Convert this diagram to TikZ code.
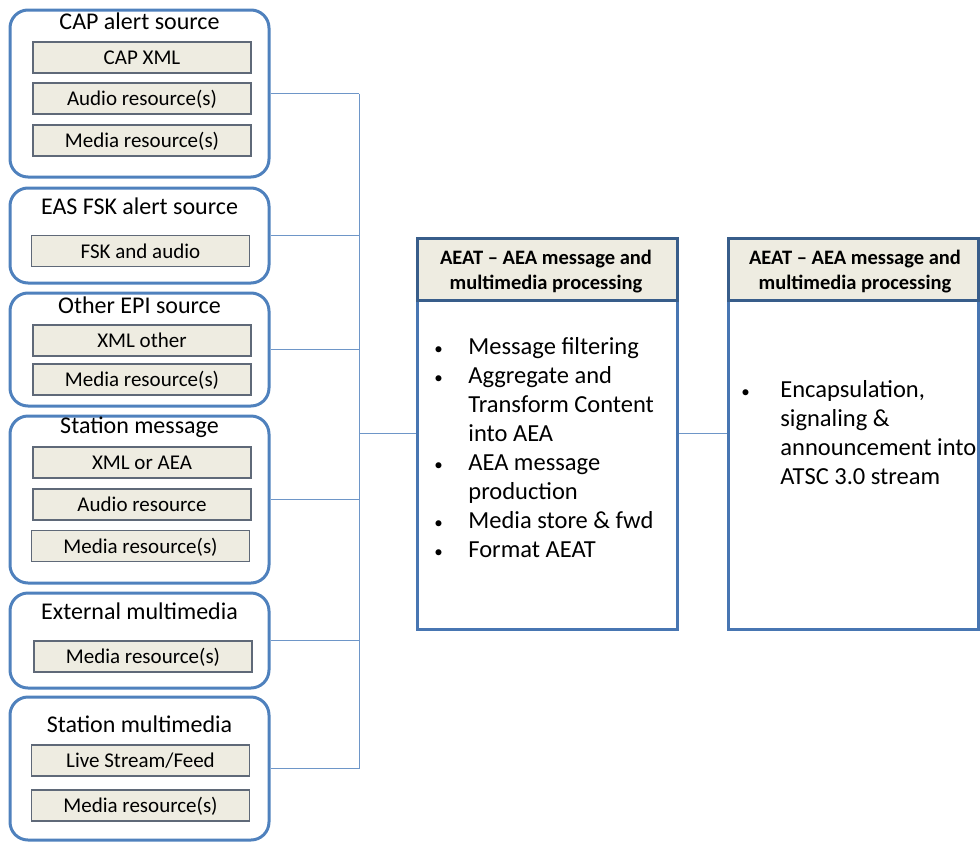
\documentclass[tikz,border=0pt]{standalone}
\usepackage{fontspec}
\setmainfont{Carlito}
\usetikzlibrary{positioning,matrix}
\definecolor{srcblue}{RGB}{79,129,189}
\definecolor{procblue}{RGB}{72,118,178}
\definecolor{hdrblue}{RGB}{56,93,138}
\definecolor{resfill}{RGB}{238,236,225}
\definecolor{resline}{RGB}{95,105,120}
\definecolor{linkblue}{RGB}{110,150,200}
\tikzset{
  srcbox/.style={draw=srcblue, line width=3pt, rounded corners=18pt, fill=white,
                 minimum width=259pt, inner sep=0pt},
  srctitle/.style={font=\fontsize{24}{28}\selectfont, inner sep=0pt},
  res/.style={draw=resline, fill=resfill, line width=1.2pt, minimum width=218pt,
              minimum height=31pt, inner sep=0pt, text height=17pt, text depth=3pt,
              font=\fontsize{21}{25}\selectfont},
  procbox/.style={draw=procblue, line width=3pt, fill=white, inner sep=0pt},
  hdr/.style={draw=hdrblue, fill=resfill, line width=3pt, inner sep=0pt},
  hdrtext/.style={align=center, inner sep=0pt, font=\bfseries\fontsize{20.5}{25}\selectfont},
  bullets/.style={matrix of nodes, ampersand replacement=\amp, inner sep=0pt,
                  column sep=0pt, row sep=0pt,
                  nodes={font=\fontsize{24.5}{29}\selectfont, inner sep=0pt, anchor=west,
                         text height=21pt, text depth=8pt}},
  dot/.style={font=\fontsize{17}{29}\selectfont},
  link/.style={draw=linkblue, line width=1pt}
}

\begin{document}
\begin{tikzpicture}[x=1pt, y=-1pt]
\useasboundingbox (0,0) rectangle (980,841);
\coordinate (bus) at (359,0);
% alert sources
\node[srcbox, minimum height=167pt] (cap) at (139.5,93.5) {};
\node[srctitle] (capt) at (139.5,21) {CAP alert source};
\node[res] (capxml) at (142,57.5) {CAP XML};
\node[res] (capaud) at (142,98.5) {Audio resource(s)};
\node[res] (capmed) at (142,140.5) {Media resource(s)};

\node[srcbox, minimum height=95pt] (eas) at (139.5,235.5) {};
\node[srctitle] (east) at (139.5,206) {EAS FSK alert source};
\node[res] (easfsk) at (140.5,251) {FSK and audio};

\node[srcbox, minimum height=113pt] (epi) at (139.5,349.5) {};
\node[srctitle] (epit) at (139.5,305) {Other EPI source};
\node[res] (epixml) at (142,340.5) {XML other};
\node[res] (epimed) at (142,379.5) {Media resource(s)};

\node[srcbox, minimum height=167pt] (stn) at (139.5,499.5) {};
\node[srctitle] (stnt) at (139.5,427) {Station message};
\node[res] (stnxml) at (142,462.5) {XML or AEA};
\node[res] (stnaud) at (142,504.5) {Audio resource};
\node[res] (stnmed) at (140.5,546) {Media resource(s)};

\node[srcbox, minimum height=95pt] (ext) at (139.5,640.5) {};
\node[srctitle] (extt) at (139.5,611) {External multimedia};
\node[res] (extmed) at (143,656.5) {Media resource(s)};

\node[srcbox, minimum height=143pt] (smm) at (139.5,768.5) {};
\node[srctitle] (smmt) at (139.5,724) {Station multimedia};
\node[res] (smmlive) at (140.5,760.5) {Live Stream/Feed};
\node[res] (smmmed) at (140.5,805.5) {Media resource(s)};

% processing
\node[procbox, minimum width=260pt, minimum height=391pt] (proc) at (547,433.5) {};
\node[hdr, minimum width=260pt, minimum height=62pt, anchor=north] (prochdr) at (proc.north) {};
\node[hdrtext] (prochdrt) at (546,272) {AEAT – AEA message and\\multimedia processing};
\matrix (procl) [bullets, anchor=north west, column 1/.style={nodes={text width=34pt}}] at (434,333.5) {
  |[dot]| \textbullet \amp Message filtering \\
  |[dot]| \textbullet \amp Aggregate and \\
                      \amp Transform Content \\
                      \amp into AEA \\
  |[dot]| \textbullet \amp AEA message \\
                      \amp production \\
  |[dot]| \textbullet \amp Media store \& fwd \\
  |[dot]| \textbullet \amp Format AEAT \\
};

\node[procbox, minimum width=250pt, minimum height=391pt] (out) at (853,433.5) {};
\node[hdr, minimum width=250pt, minimum height=62pt, anchor=north] (outhdr) at (out.north) {};
\node[hdrtext] (outhdrt) at (855,272) {AEAT – AEA message and\\multimedia processing};
\matrix (outl) [bullets, anchor=north west, column 1/.style={nodes={text width=39pt}}] at (741,376.5) {
  |[dot]| \textbullet \amp Encapsulation, \\
                      \amp signaling \& \\
                      \amp announcement into \\
                      \amp ATSC 3.0 stream \\
};

% connectors
\draw[link] (cap.east) -- (cap.east -| bus);
\draw[link] (eas.east) -- (eas.east -| bus);
\draw[link] (epi.east) -- (epi.east -| bus);
\draw[link] (stn.east) -- (stn.east -| bus);
\draw[link] (ext.east) -- (ext.east -| bus);
\draw[link] (smm.east) -- (smm.east -| bus);
\draw[link] (cap.east -| bus) -- (smm.east -| bus);
\draw[link] (proc.west -| bus) -- (proc.west);
\draw[link] (proc.east) -- (out.west);
\end{tikzpicture}
\end{document}
